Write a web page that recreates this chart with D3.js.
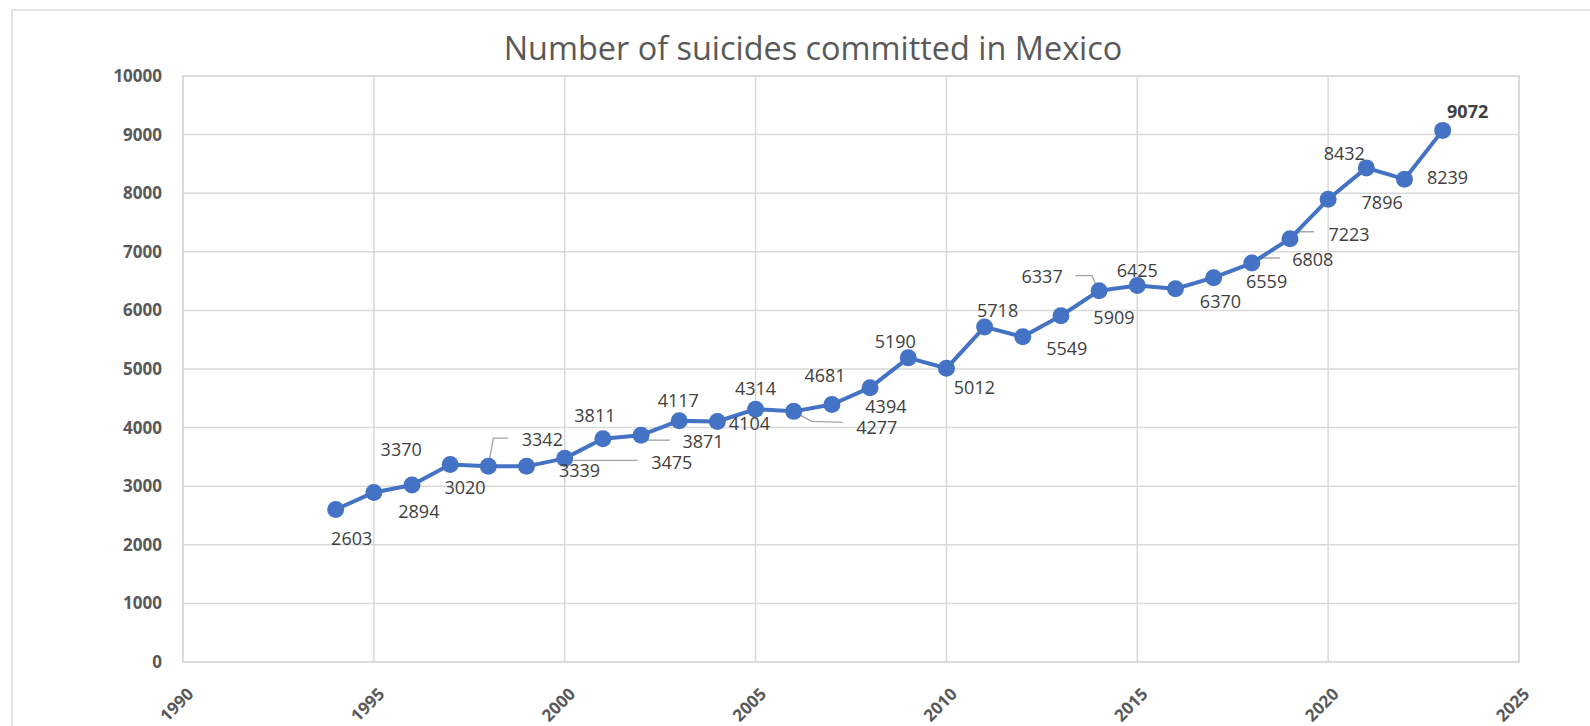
<!DOCTYPE html>
<html>
<head>
<meta charset="utf-8">
<script src="https://cdn.jsdelivr.net/npm/d3@7"></script>
<style>
  html, body { margin: 0; padding: 0; background: #ffffff; }
  svg { display: block; }
</style>
</head>
<body>
<svg id="chart" width="1590" height="726"></svg>
<script>
// ---- data ----
const title = "Number of suicides committed in Mexico";
const years = [1994,1995,1996,1997,1998,1999,2000,2001,2002,2003,2004,2005,2006,2007,2008,
               2009,2010,2011,2012,2013,2014,2015,2016,2017,2018,2019,2020,2021,2022,2023];
const suicides = [2603,2894,3020,3370,3342,3339,3475,3811,3871,4117,4104,4314,4277,4394,4681,
                  5190,5012,5718,5549,5909,6337,6425,6370,6559,6808,7223,7896,8432,8239,9072];
const xTicks = [1990,1995,2000,2005,2010,2015,2020,2025];
const yTicks = [0,1000,2000,3000,4000,5000,6000,7000,8000,9000,10000];

// ---- label layout (offsets of each data label from its point, px) ----
const labelOffsets = [
  [16,29],[45,19],[53,3],[-49,-15],[54,-26],[53,4],[107,4],[-8,-23],[62,7],[-1,-20],
  [32,2],[0,-20],[83,16],[54,2],[-45,-12],[-13,-16],[28,19],[13,-16],[44,12],[53,2],
  [-57,-14],[0,-15],[45,13],[53,4],[61,-3],[59,-4],[54,3],[-22,-14],[43,-1],[25,-19]
];
// leader lines (index -> polyline offsets relative to point)
const leaders = {
  4:  [[0,-1],[5,-28],[20,-28]],
  6:  [[2,2],[73,2]],
  8:  [[4,5],[29,5]],
  10: [[-37,1],[0,1]],
  12: [[1,1],[18,10],[49,11]],
  20: [[-2,-3],[-7,-15],[-24,-15]],
  24: [[0,1],[11,-5],[28,-5]],
  25: [[0,1],[10,-7],[24,-7]]
};
const boldLabels = [29];

// ---- layout ----
const plot = {left: 183, top: 76, right: 1519, bottom: 662};
const svg = d3.select("#chart");
const FONT = "'Open Sans', 'Noto Sans', sans-serif";

const x = d3.scaleLinear().domain([1990, 2025]).range([plot.left, plot.right]);
const y = d3.scaleLinear().domain([0, 10000]).range([plot.bottom, plot.top]);

// outer chart border
svg.append("rect")
  .attr("x", 12).attr("y", 10).attr("width", 1620).attr("height", 760)
  .attr("fill", "#ffffff").attr("stroke", "#d9d9d9").attr("stroke-width", 1.5);

// title
const t = svg.append("text")
  .attr("x", 813).attr("y", 60)
  .attr("text-anchor", "middle")
  .attr("font-family", FONT)
  .attr("font-size", 30)
  .attr("fill", "#595959")
  .text(title);
const tw = t.node().getComputedTextLength();
t.attr("font-size", 30 * 619 / tw);

// gridlines
const grid = svg.append("g").attr("stroke", "#d9d9d9").attr("stroke-width", 1.5);
grid.selectAll("line.h").data(yTicks).join("line")
  .attr("x1", plot.left).attr("x2", plot.right)
  .attr("y1", d => y(d)).attr("y2", d => y(d));
grid.selectAll("line.v").data(xTicks).join("line")
  .attr("y1", plot.top).attr("y2", plot.bottom)
  .attr("x1", d => x(d)).attr("x2", d => x(d));
svg.append("rect")
  .attr("x", plot.left).attr("y", plot.top)
  .attr("width", plot.right - plot.left).attr("height", plot.bottom - plot.top)
  .attr("fill", "none").attr("stroke", "#d9d9d9").attr("stroke-width", 1.5);

// y axis
const yAxis = d3.axisLeft(y).tickValues(yTicks).tickSize(0).tickPadding(21).tickFormat(d3.format("d"));
const gy = svg.append("g").attr("transform", `translate(${plot.left},0)`).call(yAxis);
gy.select(".domain").remove();
gy.selectAll("text")
  .attr("font-family", FONT).attr("font-size", 17).attr("font-weight", "bold")
  .attr("fill", "#595959");

// x axis
const xAxis = d3.axisBottom(x).tickValues(xTicks).tickSize(0).tickFormat(d3.format("d"));
const gx = svg.append("g").attr("transform", `translate(0,${plot.bottom})`).call(xAxis);
gx.select(".domain").remove();
gx.selectAll("text")
  .attr("font-family", FONT).attr("font-size", 17).attr("font-weight", "bold")
  .attr("fill", "#595959")
  .attr("text-anchor", "end")
  .attr("dy", "0.35em")
  .attr("transform", "translate(7,29) rotate(-45)")
  .attr("y", 0).attr("x", 0);

// data
const data = years.map((yr, i) => ({year: yr, value: suicides[i], i}));

// leader lines
const leaderG = svg.append("g").attr("fill", "none").attr("stroke", "#a6a6a6").attr("stroke-width", 1.4);
Object.entries(leaders).forEach(([k, pts]) => {
  const d = data[+k];
  const px = x(d.year), py = y(d.value);
  leaderG.append("path")
    .attr("d", d3.line()(pts.map(p => [px + p[0], py + p[1]])));
});

// line
svg.append("path")
  .datum(data)
  .attr("fill", "none")
  .attr("stroke", "#4472C4")
  .attr("stroke-width", 4)
  .attr("stroke-linejoin", "round")
  .attr("d", d3.line().x(d => x(d.year)).y(d => y(d.value)));

// markers
svg.append("g").selectAll("circle").data(data).join("circle")
  .attr("cx", d => x(d.year)).attr("cy", d => y(d.value))
  .attr("r", 8.5)
  .attr("fill", "#4472C4");

// data labels
svg.append("g").selectAll("text").data(data).join("text")
  .attr("x", d => x(d.year) + labelOffsets[d.i][0])
  .attr("y", d => y(d.value) + labelOffsets[d.i][1])
  .attr("dy", "0.35em")
  .attr("text-anchor", "middle")
  .attr("font-family", FONT)
  .attr("font-size", 18)
  .attr("font-weight", d => boldLabels.includes(d.i) ? "bold" : "normal")
  .attr("fill", "#404040")
  .text(d => d.value);
</script>
</body>
</html>
